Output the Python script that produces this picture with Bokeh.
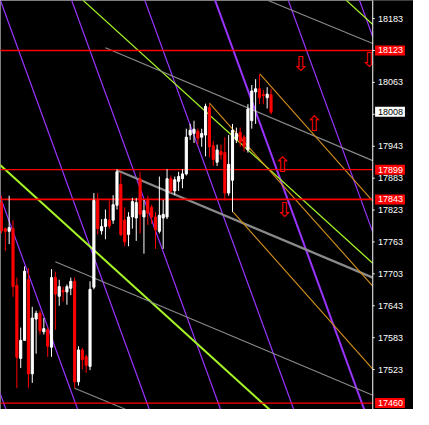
import numpy as np
from bokeh.plotting import figure
from bokeh.models import Range1d, ColumnDataSource
from bokeh.embed import file_html
from bokeh.resources import INLINE
from bokeh.core.properties import value

# ---- candles (bar index = position), prices ----
opens = [17837, 17788, 17783, 17788, 17681, 17544, 17578, 17692, 17515, 17618,
         17629, 17594, 17598, 17565, 17696, 17661, 17672, 17669, 17676, 17689,
         17500, 17560, 17547, 17529, 17678, 17841, 17784, 17792, 17804, 17804,
         17832, 17871, 17804, 17777, 17810, 17808, 17882, 17810, 17841, 17828,
         17810, 17783, 17808, 17810, 17882, 17859, 17877, 17882, 17891, 17964,
         17967, 17971, 17960, 17964, 18016, 17944, 17913, 17933, 17931, 17855,
         17879, 17955, 17969, 17960, 17936, 17991, 18045, 18051, 18040, 18034,
         18040]
highs = [17850, 17790, 17850, 17804, 17696, 17602, 17717, 17714, 17641, 17634,
         17634, 17620, 17602, 17712, 17707, 17692, 17679, 17683, 17696, 17696,
         17567, 17564, 17551, 17689, 17855, 17855, 17806, 17824, 17841, 17851,
         17900, 17893, 17828, 17819, 17846, 17846, 17895, 17842, 17850, 17833,
         17819, 17886, 17842, 17900, 17888, 17886, 17895, 17900, 17976, 17985,
         17991, 17976, 17976, 18023, 18022, 17953, 17946, 17946, 17960, 17964,
         17985, 17978, 17978, 17964, 18022, 18058, 18069, 18078, 18049, 18054,
         18051]
lows = [17779, 17746, 17759, 17660, 17488, 17526, 17578, 17488, 17498, 17553,
        17589, 17589, 17547, 17547, 17598, 17643, 17651, 17645, 17663, 17488,
        17493, 17524, 17517, 17522, 17674, 17777, 17777, 17768, 17788, 17797,
        17824, 17774, 17755, 17755, 17788, 17765, 17779, 17741, 17795, 17797,
        17750, 17779, 17750, 17806, 17855, 17851, 17859, 17864, 17888, 17955,
        17949, 17946, 17942, 17924, 17922, 17906, 17906, 17918, 17841, 17850,
        17819, 17949, 17942, 17933, 17931, 17976, 17985, 18022, 18022, 18014,
        18003]
closes = [17784, 17783, 17790, 17679, 17546, 17578, 17708, 17515, 17620, 17629,
          17596, 17600, 17567, 17696, 17665, 17679, 17669, 17679, 17689, 17500,
          17560, 17542, 17531, 17674, 17841, 17788, 17792, 17806, 17793, 17833,
          17895, 17777, 17763, 17810, 17839, 17837, 17815, 17822, 17817, 17810,
          17786, 17813, 17815, 17882, 17859, 17880, 17886, 17891, 17960, 17973,
          17975, 17958, 17967, 18018, 17942, 17918, 17936, 17927, 17855, 17909,
          17973, 17967, 17951, 17942, 18013, 18047, 18051, 18034, 18038, 18041,
          18007]

# ---- horizontal price levels and current price ----
level_prices = [18123, 17899, 17843, 17460]
level_widths = [1.6, 1.2, 1.6, 1.4]
current_price = 18008

# ---- price-scale ticks and their labels ----
tick_values = [17523, 17583, 17643, 17703, 17763, 17823, 17883, 17943, 18003, 18063, 18123, 18183]
tick_labels = ["17523", "17583", "17643", "17703", "17763", "17823", "17883", "17943",
               "", "18063", "", "18183"]

# ---- purple parallel lines: bar where each line crosses 18200 and 17460 ----
purple_bar_at_18200 = [-36.65, -18.0, 0.6, 19.1, 38.1, 56.35, 75.35, 93.85]
purple_bar_at_17460 = [0.57, 19.2, 37.8, 56.3, 75.3, 93.6, 112.6, 131.1]
purple_widths = [1.2, 1.2, 1.2, 1.2, 1.2, 2, 1.2, 1.2]

# ---- green channel lines (two anchors each) ----
green_b1 = [89.6, 21.25, -0.25]
green_p1 = [18217, 18217, 17907]
green_b2 = [96.4, 96.4, 34.75]
green_p2 = [18172, 17723, 17677]
green_widths = [1.2, 1.2, 2]

# ---- orange rays (start anchor + second anchor) ----
orange_b1 = [67.1, 54.0, 60.2]
orange_p1 = [18079, 18024, 17819]
orange_b2 = [96.4, 96.4, 96.4]
orange_p2 = [17840, 17680, 17524]

# ---- gray rays ----
gray_b1 = [69.25, 27.0, 30.0, 14.0, 19.0]
gray_p1 = [18217, 18128, 17898, 17726, 17488]
gray_b2 = [96.4, 96.4, 96.4, 96.4, 35.0]
gray_p2 = [18136, 17916, 17696, 17475, 17440]
gray_widths = [1.1, 1.1, 2.2, 1.1, 1.1]

# ---- signal arrows ----
arrow_up_bar = [81.25, 73.0]
arrow_up_price = [17985, 17907]
arrow_down_bar = [77.75, 95.5, 73.5]
arrow_down_price = [18098, 18105, 17824]

X_LEFT, X_RIGHT = -0.25, 107.0      # chart area + price scale strip
AXIS_X = 96.42                       # bar position of the price-scale line
Y_BOT, Y_TOP = 17448, 18217

p = figure(width=413, height=409, output_backend="svg", toolbar_location=None,
           x_range=Range1d(X_LEFT, X_RIGHT), y_range=Range1d(Y_BOT, Y_TOP),
           x_axis_location=None, y_axis_location=None,
           background_fill_color="black", border_fill_color="black",
           min_border_left=0, min_border_top=0, min_border_bottom=0, min_border_right=0)
p.outline_line_color = None
p.grid.visible = False


def extend(b1, p1, b2, p2, left, right):
    b1 = np.asarray(b1, float); p1 = np.asarray(p1, float)
    b2 = np.asarray(b2, float); p2 = np.asarray(p2, float)
    k = (p2 - p1) / (b2 - b1)
    xl = np.full_like(b1, left) if left is not None else b1
    xr = np.full_like(b1, right)
    return xl, p1 + k * (xl - b1), xr, p1 + k * (xr - b1)

x0, y0, x1, y1 = extend(purple_bar_at_18200, [18200] * len(purple_bar_at_18200),
                        purple_bar_at_17460, [17460] * len(purple_bar_at_17460), -200, AXIS_X)
p.segment(x0=x0, y0=y0, x1=x1, y1=y1, line_color="#9933FF", line_width=purple_widths)

x0, y0, x1, y1 = extend(green_b1, green_p1, green_b2, green_p2, -200, AXIS_X)
p.segment(x0=x0, y0=y0, x1=x1, y1=y1, line_color="#A6F526", line_width=green_widths)

x0, y0, x1, y1 = extend(gray_b1, gray_p1, gray_b2, gray_p2, None, AXIS_X)
p.segment(x0=x0, y0=y0, x1=x1, y1=y1, line_color="#8A8A8A", line_width=gray_widths)

x0, y0, x1, y1 = extend(orange_b1, orange_p1, orange_b2, orange_p2, None, AXIS_X)
p.segment(x0=x0, y0=y0, x1=x1, y1=y1, line_color="#D4901C", line_width=1.1)

# red horizontal levels
p.segment(x0=[X_LEFT - 1] * len(level_prices), y0=level_prices,
          x1=[AXIS_X] * len(level_prices), y1=level_prices,
          line_color="#FF0000", line_width=level_widths)

# candles
idx = np.arange(len(opens))
o = np.array(opens, float); c = np.array(closes, float)
colors = ["#FFFFFF" if cc >= oo else "#FF0000" for oo, cc in zip(o, c)]
src = ColumnDataSource(dict(x=idx, high=highs, low=lows,
                            top=np.maximum(o, c), bottom=np.minimum(o, c), color=colors))
p.segment(x0="x", y0="low", x1="x", y1="high", line_color="color", line_width=1, source=src)
p.vbar(x="x", width=0.55, top="top", bottom="bottom", fill_color="color",
       line_color="color", line_width=1, source=src)

# signal arrows
p.text(x=arrow_up_bar, y=arrow_up_price, text=["\u21e7"] * len(arrow_up_bar),
       text_color="#FF0000", text_font=value("DejaVu Sans"), text_font_size="21px",
       text_align="center", text_baseline="middle")
p.text(x=arrow_down_bar, y=arrow_down_price, text=["\u21e9"] * len(arrow_down_bar),
       text_color="#FF0000", text_font=value("DejaVu Sans"), text_font_size="21px",
       text_align="center", text_baseline="middle")

# ---- price scale strip ----
p.quad(left=AXIS_X, right=X_RIGHT + 5, bottom=Y_BOT - 100, top=Y_TOP + 100,
       fill_color="black", line_color=None)
p.segment(x0=[AXIS_X], y0=[Y_BOT - 100], x1=[AXIS_X], y1=[Y_TOP + 100],
          line_color="white", line_width=1)
p.segment(x0=[AXIS_X] * len(tick_values), y0=tick_values,
          x1=[AXIS_X + 0.5] * len(tick_values), y1=tick_values,
          line_color="white", line_width=1)
p.text(x=[97.75] * len(tick_values), y=tick_values, text=tick_labels,
       text_color="white", text_font=value("Liberation Sans"), text_font_size="9px",
       text_align="left", text_baseline="middle")

# boxed labels for level lines and current price
p.rect(x=[100.9] * len(level_prices), y=level_prices, width=7.75, height=10,
       height_units="screen", fill_color="#FF0000", line_color=None)
p.text(x=[97.75] * len(level_prices), y=level_prices, text=[str(v) for v in level_prices],
       text_color="white", text_font=value("Liberation Sans"), text_font_size="9px",
       text_align="left", text_baseline="middle")
p.rect(x=[100.9], y=[current_price], width=7.75, height=10,
       height_units="screen", fill_color="white", line_color=None)
p.text(x=[97.75], y=[current_price], text=[str(current_price)],
       text_color="black", text_font=value("Liberation Sans"), text_font_size="9px",
       text_align="left", text_baseline="middle")

open("out.html", "w").write(file_html(p, INLINE))
